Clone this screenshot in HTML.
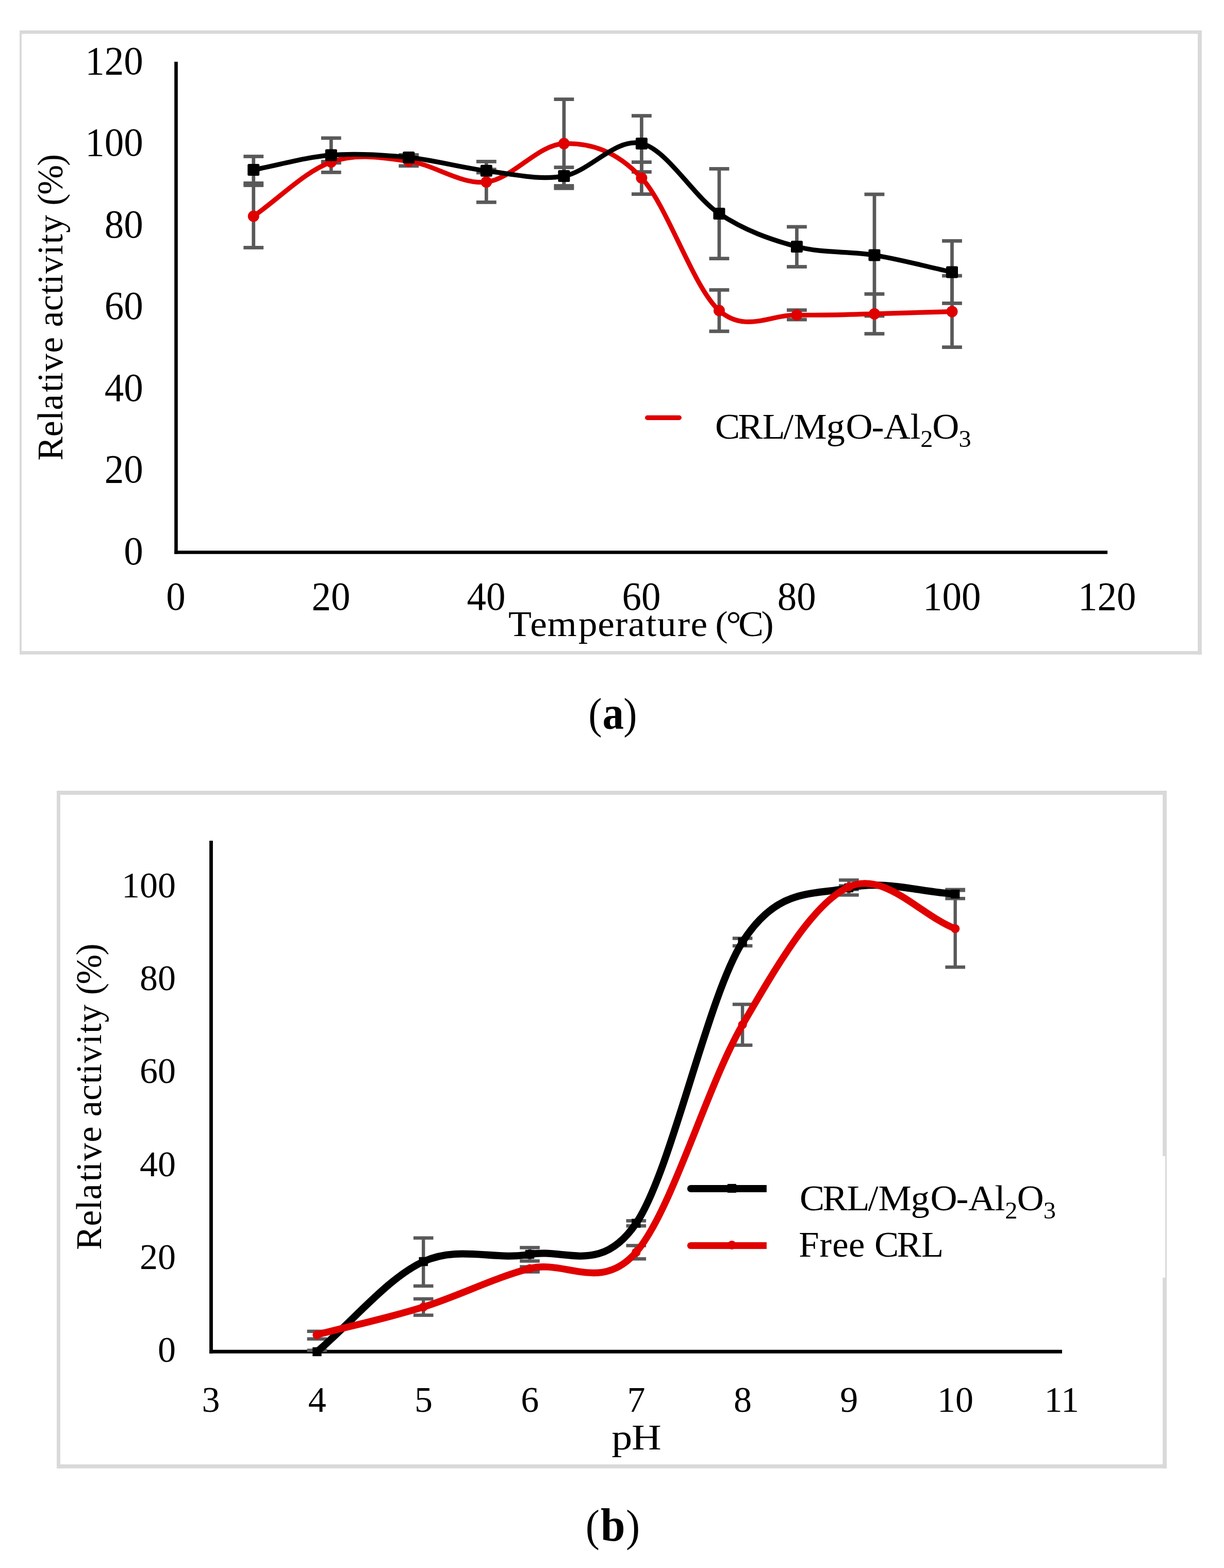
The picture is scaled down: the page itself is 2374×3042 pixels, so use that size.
<!DOCTYPE html>
<html><head><meta charset="utf-8"><title>Relative activity vs temperature and pH</title>
<style>html,body{margin:0;padding:0;background:#fff;}svg{display:block;}</style>
</head><body>
<svg width="2374" height="3042" viewBox="0 0 2374 3042" font-family="'Liberation Serif', 'Times New Roman', serif">
<rect width="2374" height="3042" fill="#fff"/>
<rect x="38.00" y="59.00" width="2292.80" height="6.70" fill="#D9D9D9"/>
<rect x="38.00" y="59.00" width="3.90" height="1210.80" fill="#D9D9D9"/>
<rect x="2323.10" y="59.00" width="7.70" height="1210.80" fill="#D9D9D9"/>
<rect x="38.00" y="1263.10" width="2292.80" height="6.70" fill="#D9D9D9"/>
<rect x="338.20" y="119.80" width="6.60" height="955.00" fill="#000"/>
<rect x="338.20" y="1068.30" width="1809.80" height="6.50" fill="#000"/>
<text transform="translate(277.8,1095.00) scale(0.75,0.773)" font-size="100" text-anchor="end">0</text>
<text transform="translate(277.8,936.46) scale(0.75,0.773)" font-size="100" text-anchor="end">20</text>
<text transform="translate(277.8,777.92) scale(0.75,0.773)" font-size="100" text-anchor="end">40</text>
<text transform="translate(277.8,619.38) scale(0.75,0.773)" font-size="100" text-anchor="end">60</text>
<text transform="translate(277.8,460.84) scale(0.75,0.773)" font-size="100" text-anchor="end">80</text>
<text transform="translate(277.8,302.30) scale(0.75,0.773)" font-size="100" text-anchor="end">100</text>
<text transform="translate(277.8,143.76) scale(0.75,0.773)" font-size="100" text-anchor="end">120</text>
<text transform="translate(340.90,1183.1) scale(0.75,0.773)" font-size="100" text-anchor="middle">0</text>
<text transform="translate(641.96,1183.1) scale(0.75,0.773)" font-size="100" text-anchor="middle">20</text>
<text transform="translate(943.02,1183.1) scale(0.75,0.773)" font-size="100" text-anchor="middle">40</text>
<text transform="translate(1244.08,1183.1) scale(0.75,0.773)" font-size="100" text-anchor="middle">60</text>
<text transform="translate(1545.14,1183.1) scale(0.75,0.773)" font-size="100" text-anchor="middle">80</text>
<text transform="translate(1846.20,1183.1) scale(0.75,0.773)" font-size="100" text-anchor="middle">100</text>
<text transform="translate(2147.26,1183.1) scale(0.75,0.773)" font-size="100" text-anchor="middle">120</text>
<text transform="translate(121.10,0) rotate(-90) scale(0.6945,0.7056)" x="-1286.47 -1219.88 -1174.86 -1145.72 -1095.37 -1067.84 -1037.75 -985.92 -941.53 -913.70 -868.79 -822.24 -794.28 -764.62 -712.07 -681.28 -650.64 -600.64 -574.15 -544.06 -463.62" y="0" font-size="100">Relative activity (%)</text>
<text transform="translate(0,1233.90) scale(0.7352,0.7010)" x="1341.04 1398.76 1443.90 1525.65 1576.87 1622.40 1657.08 1703.80 1734.02 1786.84 1821.90 1866.29 1886.99 1915.57 1947.76 2008.13" y="0" font-size="100">Temperature (°C)</text>
<rect x="488.38" y="359.50" width="6.70" height="120.90" fill="#595959"/>
<rect x="472.33" y="356.10" width="38.80" height="6.80" fill="#595959"/>
<rect x="472.33" y="477.00" width="38.80" height="6.80" fill="#595959"/>
<rect x="638.91" y="313.60" width="6.70" height="2.30" fill="#595959"/>
<rect x="622.86" y="310.20" width="38.80" height="6.80" fill="#595959"/>
<rect x="622.86" y="312.50" width="38.80" height="6.80" fill="#595959"/>
<rect x="789.44" y="303.50" width="6.70" height="18.40" fill="#595959"/>
<rect x="773.39" y="300.10" width="38.80" height="6.80" fill="#595959"/>
<rect x="773.39" y="318.50" width="38.80" height="6.80" fill="#595959"/>
<rect x="939.97" y="313.40" width="6.70" height="79.00" fill="#595959"/>
<rect x="923.92" y="310.00" width="38.80" height="6.80" fill="#595959"/>
<rect x="923.92" y="389.00" width="38.80" height="6.80" fill="#595959"/>
<rect x="1090.50" y="192.60" width="6.70" height="172.70" fill="#595959"/>
<rect x="1074.45" y="189.20" width="38.80" height="6.80" fill="#595959"/>
<rect x="1074.45" y="361.90" width="38.80" height="6.80" fill="#595959"/>
<rect x="1241.03" y="314.60" width="6.70" height="62.00" fill="#595959"/>
<rect x="1224.98" y="311.20" width="38.80" height="6.80" fill="#595959"/>
<rect x="1224.98" y="373.20" width="38.80" height="6.80" fill="#595959"/>
<rect x="1391.56" y="562.50" width="6.70" height="80.25" fill="#595959"/>
<rect x="1375.51" y="559.10" width="38.80" height="6.80" fill="#595959"/>
<rect x="1375.51" y="639.35" width="38.80" height="6.80" fill="#595959"/>
<rect x="1542.09" y="601.60" width="6.70" height="18.40" fill="#595959"/>
<rect x="1526.04" y="598.20" width="38.80" height="6.80" fill="#595959"/>
<rect x="1526.04" y="616.60" width="38.80" height="6.80" fill="#595959"/>
<rect x="1692.62" y="570.40" width="6.70" height="77.10" fill="#595959"/>
<rect x="1676.57" y="567.00" width="38.80" height="6.80" fill="#595959"/>
<rect x="1676.57" y="644.10" width="38.80" height="6.80" fill="#595959"/>
<rect x="1843.15" y="535.00" width="6.70" height="138.60" fill="#595959"/>
<rect x="1827.10" y="531.60" width="38.80" height="6.80" fill="#595959"/>
<rect x="1827.10" y="670.20" width="38.80" height="6.80" fill="#595959"/>
<rect x="488.38" y="303.50" width="6.70" height="51.90" fill="#595959"/>
<rect x="472.33" y="300.10" width="38.80" height="6.80" fill="#595959"/>
<rect x="472.33" y="352.00" width="38.80" height="6.80" fill="#595959"/>
<rect x="638.91" y="267.90" width="6.70" height="66.50" fill="#595959"/>
<rect x="622.86" y="264.50" width="38.80" height="6.80" fill="#595959"/>
<rect x="622.86" y="331.00" width="38.80" height="6.80" fill="#595959"/>
<rect x="789.44" y="300.50" width="6.70" height="9.80" fill="#595959"/>
<rect x="773.39" y="297.10" width="38.80" height="6.80" fill="#595959"/>
<rect x="773.39" y="306.90" width="38.80" height="6.80" fill="#595959"/>
<rect x="939.97" y="328.80" width="6.70" height="6.10" fill="#595959"/>
<rect x="923.92" y="325.40" width="38.80" height="6.80" fill="#595959"/>
<rect x="923.92" y="331.50" width="38.80" height="6.80" fill="#595959"/>
<rect x="1090.50" y="324.70" width="6.70" height="35.80" fill="#595959"/>
<rect x="1074.45" y="321.30" width="38.80" height="6.80" fill="#595959"/>
<rect x="1074.45" y="357.10" width="38.80" height="6.80" fill="#595959"/>
<rect x="1241.03" y="224.60" width="6.70" height="108.90" fill="#595959"/>
<rect x="1224.98" y="221.20" width="38.80" height="6.80" fill="#595959"/>
<rect x="1224.98" y="330.10" width="38.80" height="6.80" fill="#595959"/>
<rect x="1391.56" y="327.50" width="6.70" height="174.10" fill="#595959"/>
<rect x="1375.51" y="324.10" width="38.80" height="6.80" fill="#595959"/>
<rect x="1375.51" y="498.20" width="38.80" height="6.80" fill="#595959"/>
<rect x="1542.09" y="440.00" width="6.70" height="77.50" fill="#595959"/>
<rect x="1526.04" y="436.60" width="38.80" height="6.80" fill="#595959"/>
<rect x="1526.04" y="514.10" width="38.80" height="6.80" fill="#595959"/>
<rect x="1692.62" y="377.00" width="6.70" height="236.00" fill="#595959"/>
<rect x="1676.57" y="373.60" width="38.80" height="6.80" fill="#595959"/>
<rect x="1676.57" y="609.60" width="38.80" height="6.80" fill="#595959"/>
<rect x="1843.15" y="467.40" width="6.70" height="121.00" fill="#595959"/>
<rect x="1827.10" y="464.00" width="38.80" height="6.80" fill="#595959"/>
<rect x="1827.10" y="585.00" width="38.80" height="6.80" fill="#595959"/>
<path d="M491.73,419.50 C541.91,384.43 592.08,332.10 642.26,314.30 C692.44,296.50 742.61,306.23 792.79,312.70 C842.97,319.17 893.14,358.78 943.32,353.10 C993.50,347.42 1043.67,279.92 1093.85,278.60 C1144.03,277.28 1194.20,291.22 1244.38,345.20 C1294.56,399.18 1344.73,558.20 1394.91,602.50 C1445.09,646.80 1495.26,609.93 1545.44,611.00 C1595.62,612.07 1645.79,610.00 1695.97,608.90 C1746.15,607.80 1796.32,605.90 1846.50,604.40" fill="none" stroke="#E00000" stroke-width="9.2" stroke-linecap="round" stroke-linejoin="round"/>
<circle cx="491.73" cy="419.50" r="11" fill="#E00000"/>
<circle cx="642.26" cy="314.30" r="11" fill="#E00000"/>
<circle cx="792.79" cy="312.70" r="11" fill="#E00000"/>
<circle cx="943.32" cy="353.10" r="11" fill="#E00000"/>
<circle cx="1093.85" cy="278.60" r="11" fill="#E00000"/>
<circle cx="1244.38" cy="345.20" r="11" fill="#E00000"/>
<circle cx="1394.91" cy="602.50" r="11" fill="#E00000"/>
<circle cx="1545.44" cy="611.00" r="11" fill="#E00000"/>
<circle cx="1695.97" cy="608.90" r="11" fill="#E00000"/>
<circle cx="1846.50" cy="604.40" r="11" fill="#E00000"/>
<path d="M491.73,329.40 C541.91,319.90 592.08,304.90 642.26,300.90 C692.44,296.90 742.61,300.32 792.79,305.40 C842.97,310.47 893.14,325.32 943.32,331.35 C993.50,337.38 1043.67,350.43 1093.85,341.60 C1144.03,332.78 1194.20,266.27 1244.38,278.40 C1294.56,290.53 1344.73,381.07 1394.91,414.40 C1445.09,447.73 1495.26,464.97 1545.44,478.40 C1595.62,491.83 1645.79,486.73 1695.97,495.00 C1746.15,503.27 1796.32,517.00 1846.50,528.00" fill="none" stroke="#000" stroke-width="9.2" stroke-linecap="round" stroke-linejoin="round"/>
<rect x="480.23" y="317.90" width="23" height="23" rx="2.5" fill="#000"/>
<rect x="630.76" y="289.40" width="23" height="23" rx="2.5" fill="#000"/>
<rect x="781.29" y="293.90" width="23" height="23" rx="2.5" fill="#000"/>
<rect x="931.82" y="319.85" width="23" height="23" rx="2.5" fill="#000"/>
<rect x="1082.35" y="330.10" width="23" height="23" rx="2.5" fill="#000"/>
<rect x="1232.88" y="266.90" width="23" height="23" rx="2.5" fill="#000"/>
<rect x="1383.41" y="402.90" width="23" height="23" rx="2.5" fill="#000"/>
<rect x="1533.94" y="466.90" width="23" height="23" rx="2.5" fill="#000"/>
<rect x="1684.47" y="483.50" width="23" height="23" rx="2.5" fill="#000"/>
<rect x="1835.00" y="516.50" width="23" height="23" rx="2.5" fill="#000"/>
<line x1="1255.5" y1="810.4" x2="1317.4" y2="810.4" stroke="#E00000" stroke-width="9.1" stroke-linecap="round"/>
<text transform="translate(1380.00,851.00) scale(0.7225,0.7025)" font-size="100"><tspan x="9.64 71.10 136.28 192.83 220.62 308.34 360.58 429.61 462.12 533.59" y="0.00">CRL/MgO-Al</tspan><tspan x="560.93" y="22.78" font-size="67.04">2</tspan><tspan x="592.90" y="0.00">O</tspan><tspan x="663.72" y="23.20" font-size="67.04">3</tspan></text>
<text transform="translate(1144.90,1413.36) scale(0.7888,0.8569)" font-size="100"><tspan x="-4.62" y="0.00">(</tspan><tspan x="29.96" y="0.89" font-size="105.25" font-weight="bold">a</tspan><tspan x="81.55" y="0.00">)</tspan></text>
<rect x="110.10" y="1534.00" width="2152.80" height="7.90" fill="#D9D9D9"/>
<rect x="110.10" y="1534.00" width="6.80" height="1314.80" fill="#D9D9D9"/>
<rect x="2255.10" y="1534.00" width="7.80" height="1314.80" fill="#D9D9D9"/>
<rect x="110.10" y="2841.00" width="2152.80" height="7.80" fill="#D9D9D9"/>
<rect x="2255.10" y="2242.90" width="4.80" height="235.90" fill="#fff"/>
<rect x="406.10" y="1631.00" width="6.80" height="994.70" fill="#000"/>
<rect x="406.10" y="2618.70" width="1653.80" height="7.00" fill="#000"/>
<text transform="translate(341.1,2641.90) scale(0.70,0.703)" font-size="100" text-anchor="end">0</text>
<text transform="translate(341.1,2461.74) scale(0.70,0.703)" font-size="100" text-anchor="end">20</text>
<text transform="translate(341.1,2281.58) scale(0.70,0.703)" font-size="100" text-anchor="end">40</text>
<text transform="translate(341.1,2101.42) scale(0.70,0.703)" font-size="100" text-anchor="end">60</text>
<text transform="translate(341.1,1921.26) scale(0.70,0.703)" font-size="100" text-anchor="end">80</text>
<text transform="translate(341.1,1741.10) scale(0.70,0.703)" font-size="100" text-anchor="end">100</text>
<text transform="translate(408.90,2739.3) scale(0.70,0.703)" font-size="100" text-anchor="middle">3</text>
<text transform="translate(615.20,2739.3) scale(0.70,0.703)" font-size="100" text-anchor="middle">4</text>
<text transform="translate(821.50,2739.3) scale(0.70,0.703)" font-size="100" text-anchor="middle">5</text>
<text transform="translate(1027.80,2739.3) scale(0.70,0.703)" font-size="100" text-anchor="middle">6</text>
<text transform="translate(1234.10,2739.3) scale(0.70,0.703)" font-size="100" text-anchor="middle">7</text>
<text transform="translate(1440.40,2739.3) scale(0.70,0.703)" font-size="100" text-anchor="middle">8</text>
<text transform="translate(1646.70,2739.3) scale(0.70,0.703)" font-size="100" text-anchor="middle">9</text>
<text transform="translate(1853.00,2739.3) scale(0.70,0.703)" font-size="100" text-anchor="middle">10</text>
<text transform="translate(2059.30,2739.3) scale(0.70,0.703)" font-size="100" text-anchor="middle">11</text>
<text transform="translate(196.10,0) rotate(-90) scale(0.6945,0.7056)" x="-3491.79 -3425.20 -3380.18 -3351.04 -3300.69 -3273.16 -3243.07 -3191.24 -3146.85 -3119.02 -3074.11 -3027.56 -2999.60 -2969.94 -2917.39 -2886.60 -2855.96 -2805.96 -2779.47 -2749.38 -2668.94" y="0" font-size="100">Relative activity (%)</text>
<text transform="translate(0,2811.70) scale(0.7999,0.6995)" x="1482.96 1531.55" y="0" font-size="100">pH</text>
<rect x="595.60" y="2616.45" width="38.60" height="6.50" fill="#595959"/>
<rect x="818.00" y="2401.70" width="6.40" height="93.20" fill="#595959"/>
<rect x="801.90" y="2398.45" width="38.60" height="6.50" fill="#595959"/>
<rect x="801.90" y="2491.65" width="38.60" height="6.50" fill="#595959"/>
<rect x="1024.30" y="2420.40" width="6.40" height="26.10" fill="#595959"/>
<rect x="1008.20" y="2417.15" width="38.60" height="6.50" fill="#595959"/>
<rect x="1008.20" y="2443.25" width="38.60" height="6.50" fill="#595959"/>
<rect x="1230.60" y="2368.40" width="6.40" height="9.90" fill="#595959"/>
<rect x="1214.50" y="2365.15" width="38.60" height="6.50" fill="#595959"/>
<rect x="1214.50" y="2375.05" width="38.60" height="6.50" fill="#595959"/>
<rect x="1436.90" y="1820.40" width="6.40" height="14.60" fill="#595959"/>
<rect x="1420.80" y="1817.15" width="38.60" height="6.50" fill="#595959"/>
<rect x="1420.80" y="1831.75" width="38.60" height="6.50" fill="#595959"/>
<rect x="1643.20" y="1707.40" width="6.40" height="18.20" fill="#595959"/>
<rect x="1627.10" y="1704.15" width="38.60" height="6.50" fill="#595959"/>
<rect x="1627.10" y="1722.35" width="38.60" height="6.50" fill="#595959"/>
<rect x="1849.50" y="1725.80" width="6.40" height="17.40" fill="#595959"/>
<rect x="1833.40" y="1722.55" width="38.60" height="6.50" fill="#595959"/>
<rect x="1833.40" y="1739.95" width="38.60" height="6.50" fill="#595959"/>
<rect x="611.70" y="2582.80" width="6.40" height="14.80" fill="#595959"/>
<rect x="595.60" y="2579.55" width="38.60" height="6.50" fill="#595959"/>
<rect x="595.60" y="2594.35" width="38.60" height="6.50" fill="#595959"/>
<rect x="818.00" y="2519.90" width="6.40" height="31.70" fill="#595959"/>
<rect x="801.90" y="2516.65" width="38.60" height="6.50" fill="#595959"/>
<rect x="801.90" y="2548.35" width="38.60" height="6.50" fill="#595959"/>
<rect x="1024.30" y="2457.60" width="6.40" height="9.90" fill="#595959"/>
<rect x="1008.20" y="2454.35" width="38.60" height="6.50" fill="#595959"/>
<rect x="1008.20" y="2464.25" width="38.60" height="6.50" fill="#595959"/>
<rect x="1230.60" y="2416.50" width="6.40" height="25.80" fill="#595959"/>
<rect x="1214.50" y="2413.25" width="38.60" height="6.50" fill="#595959"/>
<rect x="1214.50" y="2439.05" width="38.60" height="6.50" fill="#595959"/>
<rect x="1436.90" y="1948.50" width="6.40" height="79.20" fill="#595959"/>
<rect x="1420.80" y="1945.25" width="38.60" height="6.50" fill="#595959"/>
<rect x="1420.80" y="2024.45" width="38.60" height="6.50" fill="#595959"/>
<rect x="1643.20" y="1718.50" width="6.40" height="17.90" fill="#595959"/>
<rect x="1627.10" y="1715.25" width="38.60" height="6.50" fill="#595959"/>
<rect x="1627.10" y="1733.15" width="38.60" height="6.50" fill="#595959"/>
<rect x="1849.50" y="1727.30" width="6.40" height="149.00" fill="#595959"/>
<rect x="1833.40" y="1724.05" width="38.60" height="6.50" fill="#595959"/>
<rect x="1833.40" y="1873.05" width="38.60" height="6.50" fill="#595959"/>
<path d="M614.90,2622.40 C683.67,2564.10 752.43,2478.98 821.20,2447.50 C889.97,2416.02 958.73,2445.88 1027.50,2433.50 C1096.27,2421.12 1165.03,2474.18 1233.80,2373.20 C1302.57,2272.22 1371.33,1936.05 1440.10,1827.60 C1508.87,1719.15 1577.63,1738.02 1646.40,1722.50 C1715.17,1706.98 1783.93,1730.50 1852.70,1734.50" fill="none" stroke="#000" stroke-width="14" stroke-linecap="round" stroke-linejoin="round"/>
<rect x="606.20" y="2613.70" width="17.4" height="17.4" fill="#000"/>
<rect x="812.50" y="2438.80" width="17.4" height="17.4" fill="#000"/>
<rect x="1018.80" y="2424.80" width="17.4" height="17.4" fill="#000"/>
<rect x="1225.10" y="2364.50" width="17.4" height="17.4" fill="#000"/>
<rect x="1431.40" y="1818.90" width="17.4" height="17.4" fill="#000"/>
<rect x="1637.70" y="1713.80" width="17.4" height="17.4" fill="#000"/>
<rect x="1844.00" y="1725.80" width="17.4" height="17.4" fill="#000"/>
<path d="M614.90,2589.50 C683.67,2571.57 752.43,2557.12 821.20,2535.70 C889.97,2514.28 958.73,2478.72 1027.50,2461.00 C1096.27,2443.28 1165.03,2508.23 1233.80,2429.40 C1302.57,2350.57 1371.33,2106.15 1440.10,1988.00 C1508.87,1869.85 1577.63,1751.55 1646.40,1720.50 C1715.17,1689.45 1783.93,1774.63 1852.70,1801.70" fill="none" stroke="#E00000" stroke-width="13.4" stroke-linecap="round" stroke-linejoin="round"/>
<circle cx="614.90" cy="2589.50" r="8.6" fill="#E00000"/>
<circle cx="821.20" cy="2535.70" r="8.6" fill="#E00000"/>
<circle cx="1027.50" cy="2461.00" r="8.6" fill="#E00000"/>
<circle cx="1233.80" cy="2429.40" r="8.6" fill="#E00000"/>
<circle cx="1440.10" cy="1988.00" r="8.6" fill="#E00000"/>
<circle cx="1646.40" cy="1720.50" r="8.6" fill="#E00000"/>
<circle cx="1852.70" cy="1801.70" r="8.6" fill="#E00000"/>
<rect x="1339.90" y="2299.00" width="147.00" height="14.00" fill="#000"/>
<circle cx="1339.9" cy="2306" r="7" fill="#000"/>
<rect x="1411.00" y="2296.90" width="17.00" height="17.10" fill="#000"/>
<rect x="1339.50" y="2409.90" width="147.40" height="13.20" fill="#E00000"/>
<circle cx="1339.5" cy="2416.5" r="6.6" fill="#E00000"/>
<circle cx="1419.5" cy="2415.4" r="8.5" fill="#E00000"/>
<text transform="translate(1544.10,2347.90) scale(0.7225,0.7025)" font-size="100"><tspan x="9.64 71.10 136.28 192.83 220.62 308.34 360.58 429.61 462.12 533.59" y="0.00">CRL/MgO-Al</tspan><tspan x="560.93" y="22.78" font-size="67.04">2</tspan><tspan x="592.90" y="0.00">O</tspan><tspan x="663.72" y="23.20" font-size="67.04">3</tspan></text>
<text transform="translate(0,2437.70) scale(0.7069,0.6934)" x="2191.45 2248.65 2283.48 2328.33 2372.72 2399.16 2461.10 2527.89" y="0" font-size="100">Free CRL</text>
<text transform="translate(1140.00,2988.73) scale(0.8165,0.8580)" font-size="100"><tspan x="-5.11" y="0.00">(</tspan><tspan x="30.48" y="0.69" font-size="104.85" font-weight="bold">b</tspan><tspan x="90.61" y="0.00">)</tspan></text>
</svg>
</body></html>
